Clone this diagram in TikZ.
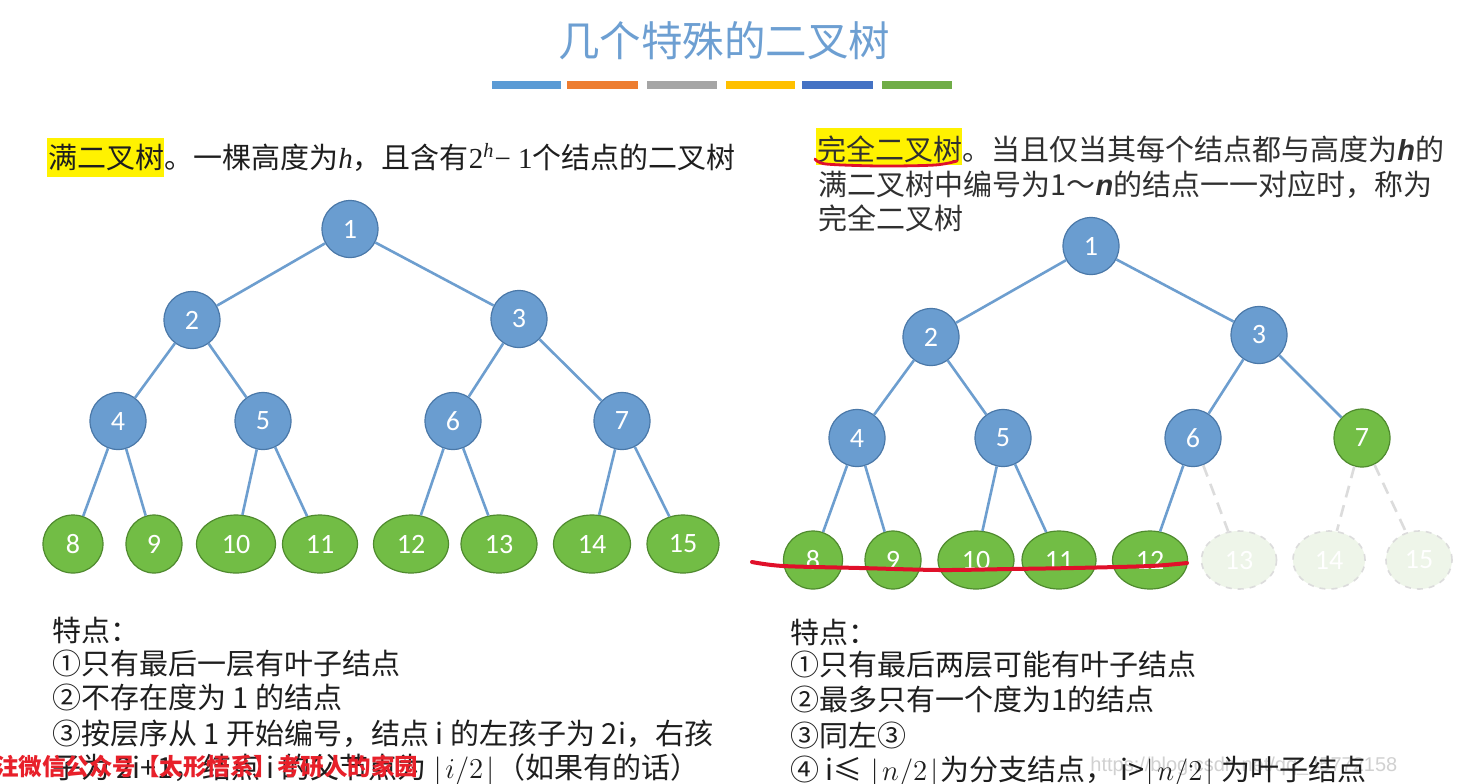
\documentclass[tikz,border=0pt]{standalone}
\usepackage{fontspec}
\usetikzlibrary{shapes.geometric}
\newfontfamily\cjk{Noto Sans CJK SC}
\newfontfamily\clb{Carlito}
\newfontfamily\tms{Liberation Serif}
\newfontfamily\arl{Liberation Sans}
\definecolor{fillB}{HTML}{6A9DD0}
\definecolor{bdrB}{HTML}{4A78A8}
\definecolor{fillG}{HTML}{72BD45}
\definecolor{bdrG}{HTML}{4F8A2E}
\definecolor{edgeC}{HTML}{6D9ECF}
\definecolor{fadeG}{HTML}{EEF5E9}
\definecolor{fadeE}{HTML}{DCDCDC}
\definecolor{titleC}{HTML}{6D9FD2}
\definecolor{txtC}{HTML}{1E1E1E}
\definecolor{txtR}{HTML}{303030}
\definecolor{redC}{HTML}{E0102A}
\definecolor{wmC}{HTML}{E8202A}
\definecolor{barA}{HTML}{5B9BD5}
\definecolor{barB}{HTML}{ED7D31}
\definecolor{barC}{HTML}{A5A5A5}
\definecolor{barD}{HTML}{FFC000}
\definecolor{barE}{HTML}{4472C4}
\definecolor{barF}{HTML}{70AD47}
\tikzset{
  bn/.style={ellipse, draw=bdrB, fill=fillB, line width=0.6pt, text=white,
    font=\clb\fontsize{14}{14}\selectfont, inner sep=0pt,
    minimum width=28pt, minimum height=28.5pt},
  gn/.style={ellipse, draw=bdrG, fill=fillG, line width=0.6pt, text=white,
    font=\clb\fontsize{14}{14}\selectfont, inner sep=0pt,
    minimum width=#1*0.5pt, minimum height=29pt},
  fn/.style={ellipse, draw=fadeE, dashed, fill=fadeG, line width=0.8pt, text=white,
    font=\clb\fontsize{14}{14}\selectfont, inner sep=0pt,
    minimum width=#1*0.5pt, minimum height=29pt},
  conn/.style={draw=edgeC, line width=1.3pt},
  fconn/.style={draw=fadeE, line width=1.3pt, dash pattern=on 6pt off 4pt},
  txt/.style={anchor=base west, inner sep=0pt, text=txtC,
    font=\cjk\fontsize{14.5}{14.5}\selectfont},
  txtr/.style={anchor=base west, inner sep=0pt, text=txtR,
    font=\cjk\fontsize{14.5}{14.5}\selectfont},
  colbar/.style={fill=#1, draw=none}
}
\begin{document}
\begin{tikzpicture}[x=0.5pt,y=-0.5pt]
\useasboundingbox (0,0) rectangle (1461,783);
\fill[white] (0,0) rectangle (1461,783);

% title
\node[anchor=base, inner sep=0pt, text=titleC, font=\cjk\fontsize{20.75}{20.75}\selectfont] (title) at (724,56) {几个特殊的二叉树};
\fill[colbar=barA] (492,81) rectangle (561,89);
\fill[colbar=barB] (567,81) rectangle (638,89);
\fill[colbar=barC] (647,81) rectangle (717,89);
\fill[colbar=barD] (726,81) rectangle (795,89);
\fill[colbar=barE] (802,81) rectangle (873,89);
\fill[colbar=barF] (882,81) rectangle (952,89);

% headings
\fill[yellow] (47,138) rectangle (164,177);
\node[txt] (hl) at (48,168) {满二叉树。一棵高度为{\tms\itshape h}，且含有{\tms 2\textsuperscript{\itshape h}− 1}个结点的二叉树};

\fill[yellow] (816,128) rectangle (962,165);
\node[txtr] (hr1) at (817,160) {完全二叉树。当且仅当其每个结点都与高度为{\arl\bfseries\itshape h}的};
\node[txtr] (hr2) at (818,195) {满二叉树中编号为1～{\arl\bfseries\itshape n}的结点一一对应时，称为};
\node[txtr] (hr3) at (818,229) {完全二叉树};
\draw[redC, line width=1.4pt, line cap=round] plot[smooth] coordinates {(815,159) (826,164) (880,166) (935,165) (957,161)};

% left tree
\node[bn] (L1) at (350,229) {1};
\node[bn] (L2) at (192,320) {2};
\node[bn] (L3) at (519,319) {3};
\node[bn] (L4) at (118,421) {4};
\node[bn] (L5) at (263,421) {5};
\node[bn] (L6) at (453,421) {6};
\node[bn] (L7) at (622,421) {7};
\node[gn=60] (L8) at (73,544) {8};
\node[gn=56] (L9) at (154,544) {9};
\node[gn=79] (L10) at (236,544) {10};
\node[gn=75] (L11) at (320,544) {11};
\node[gn=75] (L12) at (411,544) {12};
\node[gn=76] (L13) at (499,544) {13};
\node[gn=77] (L14) at (592,544) {14};
\node[gn=72] (L15) at (683,544) {15};
\foreach \a/\b in {1/2,1/3,2/4,2/5,3/6,3/7,4/8,4/9,5/10,5/11,6/12,6/13,7/14,7/15}
  \draw[conn] (L\a) -- (L\b);

% right tree
\node[bn] (R1) at (1091,246) {1};
\node[bn] (R2) at (931,337) {2};
\node[bn] (R3) at (1259,335) {3};
\node[bn] (R4) at (857,438) {4};
\node[bn] (R5) at (1003,438) {5};
\node[bn] (R6) at (1193,438) {6};
\node[gn=56] (R7) at (1362,438) {7};
\node[gn=59] (R8) at (813,560) {8};
\node[gn=56] (R9) at (893,560) {9};
\node[gn=76] (R10) at (976,560) {10};
\node[gn=74] (R11) at (1059,560) {11};
\node[gn=75] (R12) at (1150,560) {12};
\node[fn=75] (R13) at (1239,560) {13};
\node[fn=72] (R14) at (1329,560) {14};
\node[fn=66] (R15) at (1419,560) {15};
\foreach \a/\b in {1/2,1/3,2/4,2/5,3/6,3/7,4/8,4/9,5/10,5/11,6/12}
  \draw[conn] (R\a) -- (R\b);
\foreach \a/\b in {6/13,7/14,7/15}
  \draw[fconn] (R\a) -- (R\b);
\draw[redC, line width=2pt, line cap=round] plot[smooth] coordinates {(752,562) (783,566) (860,568) (940,570) (1010,569) (1073,568) (1150,566) (1187,563)};

% bottom left
\node[txt] (bl0) at (52,641) {特点：};
\node[txt] (bl1) at (52,674) {①只有最后一层有叶子结点};
\node[txt] (bl2) at (52,708) {②不存在度为 1 的结点};
\node[txt] (bl3) at (52,744) {③按层序从 1 开始编号，结点 i 的左孩子为 2i，右孩};
\node[txt] (bl4) at (52,778) {子为 2i+1，结点 i 的父节点为 $\lfloor i/2\rfloor$（如果有的话）};
\node[anchor=base west, inner sep=0pt, text=wmC, font=\cjk\bfseries\fontsize{11.75}{11.75}\selectfont] (wm) at (-5,775) {注微信公众号【太形悟系】考研人的家园};

% bottom right
\node[anchor=base west, inner sep=0pt, text=black!18, font=\arl\fontsize{10}{10}\selectfont] (csdn) at (1090,771) {https://blog.csdn.net/qq\_45772158};
\node[txt] (br0) at (790,643) {特点：};
\node[txt] (br1) at (790,675) {①只有最后两层可能有叶子结点};
\node[txt] (br2) at (790,710) {②最多只有一个度为1的结点};
\node[txt] (br3) at (790,746) {③同左③};
\node[txt] (br4) at (790,780) {④ i≤ $\lfloor n/2\rfloor$为分支结点， i>$\lfloor n/2\rfloor$ 为叶子结点};
\end{tikzpicture}
\end{document}
